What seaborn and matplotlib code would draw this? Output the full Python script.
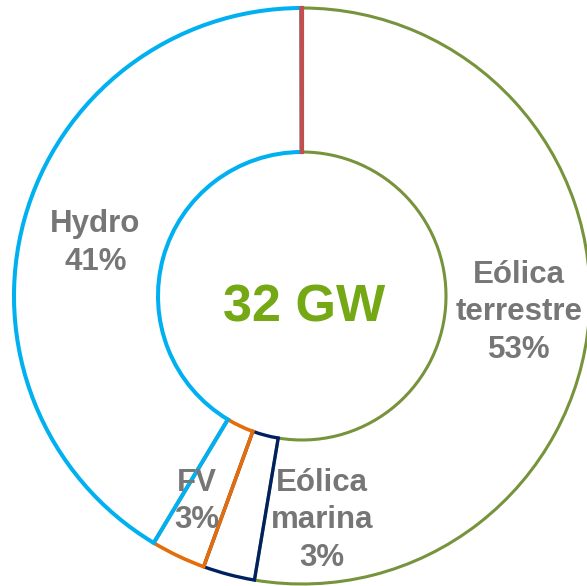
import matplotlib
matplotlib.use("Agg")
import matplotlib.pyplot as plt
import seaborn as sns

# Potencia instalada (GW), en el orden en que se dibujan (sentido horario desde arriba)
tecnologias = ["Eólica terrestre", "Eólica marina", "FV", "Hydro", "Otros"]
potencia_gw = [16.85, 0.93, 0.98, 13.24, 0.01]
colores_borde = ["#77933C", "#002060", "#E46C0A", "#00B0F0", "#C0504D"]
grosores = [2.2, 2.4, 2.6, 2.9, 3.0]

# Etiquetas de texto: (líneas, x centro, y de la primera línea base)
etiquetas = [
    (["Eólica", "terrestre", "53%"], 0.753, 0.045),
    (["Eólica", "marina", "3%"], 0.069, -0.677),
    (["FV", "3%"], -0.365, -0.677),
    (["Hydro", "41%"], -0.717, 0.222),
]
total_texto = "32 GW"

sns.set_theme(style="white")
plt.rcParams["font.family"] = ["Liberation Sans", "DejaVu Sans"]

fig = plt.figure(figsize=(5.87, 5.86), dpi=100)
ax = fig.add_axes([0, 0, 1, 1])

wedges, _ = ax.pie(
    potencia_gw,
    startangle=90,
    counterclock=False,
    radius=1.0,
    wedgeprops=dict(width=0.5, facecolor="none", joinstyle="miter"),
)
for w, c, lw in zip(wedges, colores_borde, grosores):
    w.set_edgecolor(c)
    w.set_linewidth(lw)

# Cada línea por separado para controlar el interlineado
interlineado = 0.13
for lineas, x, y0 in etiquetas:
    for i, linea in enumerate(lineas):
        ax.text(x, y0 - i * interlineado, linea, ha="center", va="baseline",
                fontsize=22.5, fontweight="bold", color="#767676")

ax.text(0.007, -0.090, total_texto, ha="center", va="baseline", fontsize=37.5,
        fontweight="bold", color="#74A814")

# Ajustar los límites para que el círculo quede como en la imagen
ax.set_xlim(-302 / 288, 285 / 288)
ax.set_ylim(-290 / 288, 296 / 288)
ax.set_aspect("auto")
ax.axis("off")

fig.savefig("out.png", dpi=100)
